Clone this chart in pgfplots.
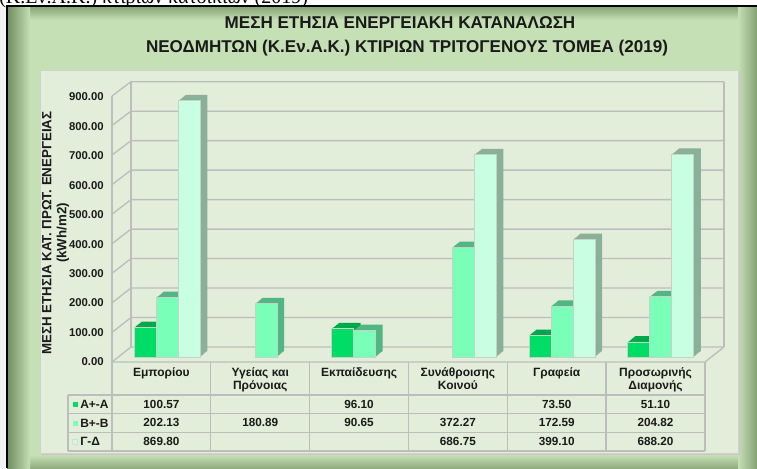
\documentclass[border=0pt]{standalone}
\usepackage{pgfplots}
\pgfplotsset{compat=1.18}
\usepackage{pgfplotstable}
\usepackage{fontspec}
\setmainfont{Liberation Sans}
\newfontfamily\seriffont{Liberation Serif}

\definecolor{frameg}{HTML}{C5E0B4}
\definecolor{frameedge}{HTML}{6E8C5E}
\definecolor{innerg}{HTML}{E2EED9}
\definecolor{gridc}{HTML}{BDBDBD}
\definecolor{cA}{HTML}{00DD66}
\definecolor{cAs}{HTML}{00A84C}
\definecolor{cB}{HTML}{7AFFB8}
\definecolor{cBs}{HTML}{52B584}
\definecolor{cG}{HTML}{C8FFE2}
\definecolor{cGs}{HTML}{8AB09A}
\definecolor{barline}{HTML}{C4D4C4}
\definecolor{txt}{HTML}{1A1A1A}

\pgfplotstableread{
x A B G
0 100.57 202.13 869.80
1 nan 180.89 nan
2 96.10 90.65 nan
3 nan 372.27 686.75
4 73.50 172.59 399.10
5 51.10 204.82 688.20
}\data

\begin{document}
\begin{tikzpicture}
\path[use as bounding box] (0,0) rectangle (567.75pt,351pt);
\clip (0,0) rectangle (567.75pt,351pt);
\begin{scope}[x=0.75pt,y=-0.75pt,yshift=351pt]
 % page
 \fill[white] (0,0) rectangle (757,468);
 \fill[black!5] (0,6) rectangle (7,468);
 \node[anchor=base west, font=\seriffont\fontsize{15}{15}\selectfont, inner sep=0pt] at (-1,3.5) {(Κ.Εν.Α.Κ.) κτιρίων κατοικιών (2019)};
 % frame
 \fill[frameg] (7,6) rectangle (757,468);
 \shade[top color=frameedge!75!frameg, bottom color=frameg] (7,6) rectangle (757,20);
 \shade[top color=frameg, bottom color=frameedge!60!frameg] (7,455) rectangle (757,468);
 \shade[left color=frameedge, right color=frameg] (7,6) rectangle (30,468);
 \shade[left color=frameg, right color=frameedge!75!frameg] (738,6) rectangle (757,468);
 \draw[black, line width=1.5pt] (7,468) -- (7,6) -- (757,6);
 % title
 \node[anchor=base, font=\bfseries\fontsize{12.8}{14}\selectfont, text=txt] at (400,28.5) {ΜΕΣΗ ΕΤΗΣΙΑ ΕΝΕΡΓΕΙΑΚΗ ΚΑΤΑΝΑΛΩΣΗ};
 \node[anchor=base, font=\bfseries\fontsize{12.8}{14}\selectfont, text=txt] at (407,52.5) {ΝΕΟΔΜΗΤΩΝ (Κ.Εν.Α.Κ.) ΚΤΙΡΙΩΝ ΤΡΙΤΟΓΕΝΟΥΣ ΤΟΜΕΑ (2019)};
 % inner area
 \fill[black!22] (41.5,71.5) rectangle (740,455);
 \filldraw[fill=innerg, draw=black!18] (40,70) rectangle (738,453);
 % walls and grid
 \foreach \v in {0,100,...,900} {
   \draw[gridc, line width=1pt] (112,{362-\v*0.2956}) -- (131,{347-\v*0.29478}) -- (724,{347-\v*0.29478});
 }
 \draw[gridc, line width=1pt] (724,347) -- (724,81.7);
 \draw[gridc, line width=1pt] (131,347) -- (131,81.7);
 \draw[gridc, line width=1pt] (112,362) -- (112,96);
 \draw[gridc, line width=1pt] (112,362) -- (705,362) -- (724,347);
 % y label
 \node[rotate=90, align=center, font=\bfseries\fontsize{10}{11.25}\selectfont, text=txt] at (55.5,233) {ΜΕΣΗ ΕΤΗΣΙΑ ΚΑΤ. ΠΡΩΤ. ΕΝΕΡΓΕΙΑΣ\\(kWh/m2)};
 % data table grid
 \foreach \k in {0,...,6} {
   \draw[gridc, line width=1pt] ({112+98.83*\k},362) -- ({112+98.83*\k},451);
 }
 \draw[gridc, line width=1pt] (68,395) -- (68,451);
 \foreach \yy in {395,413.7,432.3,451} {
   \draw[gridc, line width=1pt] (68,\yy) -- (705,\yy);
 }
 % header labels
 \foreach \lab [count=\i from 0] in {Εμπορίου,{Υγείας και\\Πρόνοιας},Εκπαίδευσης,{Συνάθροισης\\Κοινού},Γραφεία,{Προσωρινής\\Διαμονής}} {
   \node[anchor=north, align=center, inner sep=0pt, font=\bfseries\fontsize{9}{9.9}\selectfont, text=txt] at ({161.4+98.83*\i},367) {\lab};
 }
 % legend keys
 \fill[cA] (72.5,401.5) rectangle (77.5,406.5);
 \fill[cB] (72.5,420.5) rectangle (77.5,425.5);
 \filldraw[fill=cG, draw=black!15, line width=0.3pt] (72.5,439) rectangle (77.5,444);
 \node[anchor=west, inner sep=0pt, font=\bfseries\fontsize{9}{9}\selectfont, text=txt] at (80,404.3) {Α+-Α};
 \node[anchor=west, inner sep=0pt, font=\bfseries\fontsize{9}{9}\selectfont, text=txt] at (80,423) {Β+-Β};
 \node[anchor=west, inner sep=0pt, font=\bfseries\fontsize{9}{9}\selectfont, text=txt] at (80,441.6) {Γ-Δ};
 % values
 \foreach \c/\r/\val in {0/0/100.57,2/0/96.10,4/0/73.50,5/0/51.10,
                          0/1/202.13,1/1/180.89,2/1/90.65,3/1/372.27,4/1/172.59,5/1/204.82,
                          0/2/869.80,3/2/686.75,4/2/399.10,5/2/688.20} {
   \node[inner sep=0pt, font=\bfseries\fontsize{8.8}{9}\selectfont, text=txt] at ({161.4+98.83*\c},{404.3+18.65*\r}) {\val};
 }
\end{scope}

\begin{axis}[
  at={(88.4625pt,83.25pt)}, anchor=south west,
  scale only axis, width=444.15pt, height=198.9pt,
  xmin=-0.5, xmax=5.5, ymin=0, ymax=900,
  axis line style={draw=none}, xtick=\empty, ytick={0,100,...,900},
  major tick length=0pt,
  /pgf/number format/assume math mode=true,
  yticklabel style={font=\bfseries\fontsize{8.5}{9}\selectfont, text=txt, anchor=east, inner sep=0pt, xshift=-10.5pt, yshift=-3.75pt,
     /pgf/number format/fixed, /pgf/number format/fixed zerofill, /pgf/number format/precision=2, /pgf/number format/1000 sep={}},
  clip=false,
  ybar=0pt, bar width=16.5pt,
]
\pgfplotsinvokeforeach{1,...,8}{
  \addplot[fill=cAs, draw=none, bar shift=-16.5pt, xshift=#1*0.65625pt, yshift=#1*0.5375pt] table[x=x,y=A]{\data};
}
\addplot[fill=cA, draw=barline, line width=0.6pt, bar shift=-16.5pt] table[x=x,y=A]{\data};
\pgfplotsinvokeforeach{1,...,8}{
  \addplot[fill=cBs, draw=none, bar shift=0pt, xshift=#1*0.65625pt, yshift=#1*0.5375pt] table[x=x,y=B]{\data};
}
\addplot[fill=cB, draw=barline, line width=0.6pt, bar shift=0pt] table[x=x,y=B]{\data};
\pgfplotsinvokeforeach{1,...,8}{
  \addplot[fill=cGs, draw=none, bar shift=16.5pt, xshift=#1*0.65625pt, yshift=#1*0.5375pt] table[x=x,y=G]{\data};
}
\addplot[fill=cG, draw=barline, line width=0.6pt, bar shift=16.5pt] table[x=x,y=G]{\data};
\end{axis}
\end{tikzpicture}
\end{document}
